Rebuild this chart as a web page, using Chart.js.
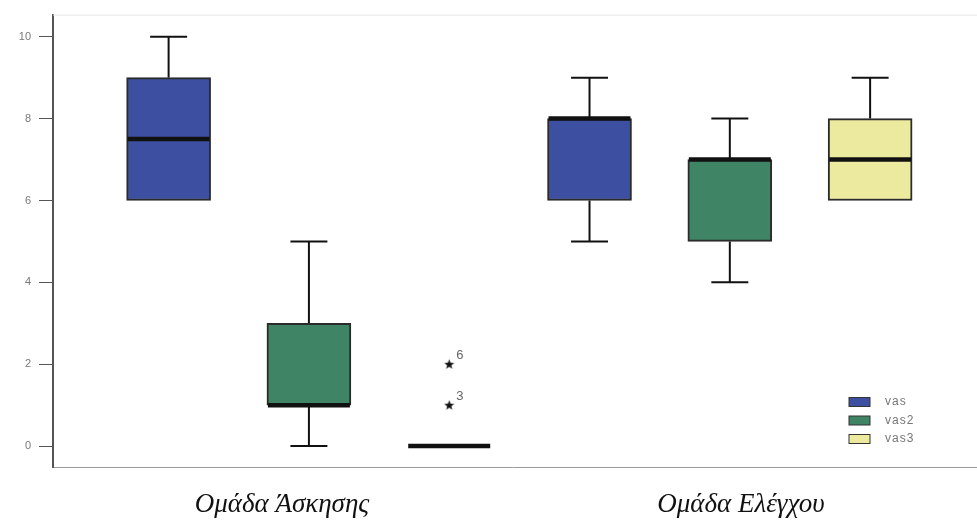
<!DOCTYPE html>
<html><head><meta charset="utf-8">
<script src="https://cdn.jsdelivr.net/npm/chart.js@4/dist/chart.umd.min.js"></script>
<style>html,body{margin:0;padding:0;background:#fff}#wrap{width:977px;height:521px;position:relative}</style>
</head><body><div id="wrap"><canvas id="c"></canvas></div>
<script>
// ---- data ----
const groups = ['Ομάδα Άσκησης', 'Ομάδα Ελέγχου'];
const seriesNames = ['vas', 'vas2', 'vas3'];
const vasMin = [6, 5], vasQ1 = [6, 6], vasMed = [7.5, 8], vasQ3 = [9, 8], vasMax = [10, 9];
const vas2Min = [0, 4], vas2Q1 = [1, 5], vas2Med = [1, 7], vas2Q3 = [3, 7], vas2Max = [5, 8];
const vas3Min = [0, 6], vas3Q1 = [0, 6], vas3Med = [0, 7], vas3Q3 = [0, 8], vas3Max = [0, 9];
const outlierValues = [1, 2];
const outlierLabels = ['3', '6'];
const outlierSeries = 2, outlierGroup = 0;
const yTicks = [0, 2, 4, 6, 8, 10];

const stats = [
  {min: vasMin, q1: vasQ1, med: vasMed, q3: vasQ3, max: vasMax},
  {min: vas2Min, q1: vas2Q1, med: vas2Med, q3: vas2Q3, max: vas2Max},
  {min: vas3Min, q1: vas3Q1, med: vas3Med, q3: vas3Q3, max: vas3Max}
];
const fills = ['#3c4fa0', '#3f8464', '#ecea9e'];
const pos = (g, s) => g + 1 + (s - 1) / 3;

// filled star point style
const star = document.createElement('canvas');
star.width = 11; star.height = 11;
(function(){const c = star.getContext('2d'); c.fillStyle = '#111'; c.beginPath();
  for (let i = 0; i < 10; i++) { const r = i % 2 ? 2.2 : 5.3; const a = -Math.PI/2 + i*Math.PI/5;
    const px = 5.5 + r*Math.cos(a), py = 5.8 + r*Math.sin(a); i ? c.lineTo(px,py) : c.moveTo(px,py); }
  c.closePath(); c.fill();})();

const datasets = seriesNames.map((name, s) => ({
  type: 'bar', label: name,
  data: groups.map((_, g) => ({x: pos(g, s), y: [stats[s].q1[g], stats[s].q3[g]]})),
  backgroundColor: fills[s], borderColor: '#2b2b2b', borderWidth: 2, borderSkipped: false,
  barThickness: 84, grouped: false
}));
datasets.push({
  type: 'scatter', label: 'outliers',
  data: outlierValues.map(v => ({x: pos(outlierGroup, outlierSeries), y: v})),
  pointStyle: star, pointRadius: 5
});

const boxPlugin = {
  id: 'box',
  beforeDatasetsDraw(chart) {
    const {ctx, scales: {x, y}} = chart;
    ctx.save(); ctx.strokeStyle = '#111'; ctx.lineWidth = 2;
    stats.forEach((st, s) => groups.forEach((_, g) => {
      const xc = x.getPixelForValue(pos(g, s));
      const cap = chart.getDatasetMeta(s).data[g].width * 0.22;
      const seg = (a, b) => { if (a === b) return;
        ctx.beginPath(); ctx.moveTo(xc, y.getPixelForValue(a)); ctx.lineTo(xc, y.getPixelForValue(b)); ctx.stroke();
        ctx.beginPath(); ctx.moveTo(xc - cap, y.getPixelForValue(b)); ctx.lineTo(xc + cap, y.getPixelForValue(b)); ctx.stroke(); };
      seg(st.q3[g], st.max[g]); seg(st.q1[g], st.min[g]);
    }));
    ctx.restore();
  },
  afterDatasetsDraw(chart) {
    const {ctx, scales: {x, y}, chartArea: ca} = chart;
    ctx.save(); ctx.strokeStyle = '#111'; ctx.lineWidth = 4.5;
    stats.forEach((st, s) => groups.forEach((_, g) => {
      const xc = x.getPixelForValue(pos(g, s));
      const hw = chart.getDatasetMeta(s).data[g].width / 2 - 1;
      const ym = y.getPixelForValue(st.med[g]);
      ctx.beginPath(); ctx.moveTo(xc - hw, ym); ctx.lineTo(xc + hw, ym); ctx.stroke();
    }));
    // outlier labels
    ctx.fillStyle = '#666'; ctx.font = '13px "Liberation Sans", Arial'; ctx.textBaseline = 'alphabetic';
    outlierValues.forEach((v, i) => {
      ctx.fillText(outlierLabels[i], x.getPixelForValue(pos(outlierGroup, outlierSeries)) + 7, y.getPixelForValue(v) - 5);
    });
    // top frame line
    ctx.strokeStyle = '#e6e6e6'; ctx.lineWidth = 1;
    ctx.beginPath(); ctx.moveTo(ca.left, ca.top + 0.5); ctx.lineTo(977, ca.top + 0.5); ctx.stroke();
    ctx.strokeStyle = '#9a9a9a';
    ctx.beginPath(); ctx.moveTo(ca.right, ca.bottom + 0.5); ctx.lineTo(977, ca.bottom + 0.5); ctx.stroke();
    // legend
    ctx.font = '12px "Liberation Sans", Arial'; ctx.textBaseline = 'middle';
    seriesNames.forEach((n, s) => {
      const yy = ca.bottom - 65 + s * 18.5;
      ctx.fillStyle = fills[s]; ctx.fillRect(849, yy - 4.5, 21, 9);
      ctx.strokeStyle = '#333'; ctx.lineWidth = 1; ctx.strokeRect(849, yy - 4.5, 21, 9);
      ctx.fillStyle = '#777'; ctx.fillText(n.split('').join(String.fromCharCode(8202)), 885, yy);
    });
    // group labels
    ctx.fillStyle = '#111'; ctx.font = 'italic 27px "Liberation Serif", "DejaVu Serif", serif';
    ctx.textAlign = 'center'; ctx.textBaseline = 'alphabetic';
    ctx.fillText(groups[0], 282, 512);
    ctx.fillText(groups[1], 741, 512);
    ctx.restore();
  }
};

new Chart(document.getElementById('c'), {
  data: {datasets},
  options: {
    responsive: true, maintainAspectRatio: false, animation: false,
    layout: {padding: {top: 14, right: 0, left: 0, bottom: 0}},
    plugins: {legend: {display: false}, tooltip: {enabled: false}},
    scales: {
      x: {type: 'linear', min: 0.392, max: 2.573, offset: false,
        ticks: {display: false}, grid: {display: false, drawTicks: false, offset: false},
        border: {display: true, color: '#9a9a9a', width: 1},
        afterFit: sc => { sc.height = 54; }},
      y: {type: 'linear', min: -0.51, max: 10.54,
        afterBuildTicks: sc => { sc.ticks = yTicks.map(v => ({value: v})); },
        ticks: {color: '#777', font: {family: '"Liberation Sans", Arial', size: 11}, padding: 8},
        grid: {drawOnChartArea: false, drawTicks: true, tickLength: 14, color: '#555', tickWidth: 1},
        border: {display: true, color: '#555', width: 2},
        afterFit: sc => { sc.width = 53; }}
    }
  },
  plugins: [boxPlugin]
});
</script></body></html>
